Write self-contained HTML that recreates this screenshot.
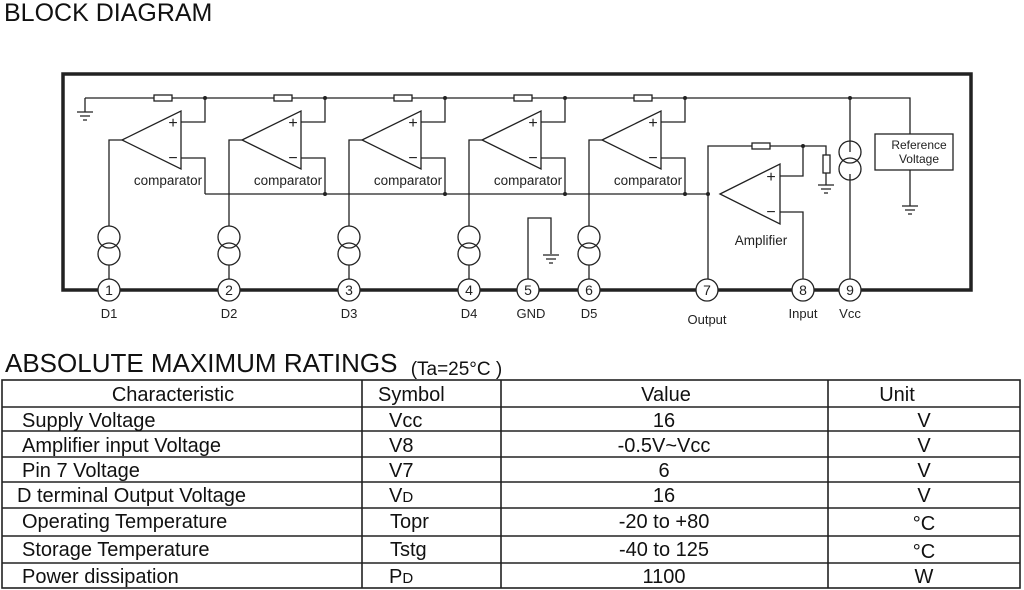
<!DOCTYPE html>
<html><head><meta charset="utf-8"><style>
body{margin:0;background:#fff;width:1024px;height:590px;overflow:hidden;font-family:"Liberation Sans",sans-serif}
svg{position:absolute;left:0;top:0}
</style></head><body>
<svg width="1024" height="590" viewBox="0 0 1024 590" font-family="Liberation Sans, sans-serif">
<text x="4" y="21" font-size="25" fill="#111">BLOCK DIAGRAM</text>
<g stroke="#222" stroke-width="1.3" fill="none">
<rect x="63" y="74" width="908" height="216" stroke-width="3.5"/>
<path d="M85 98H910V134"/>
<path d="M85 98V112M77 112H93M80 116H90M83 120H87"/>
<g fill="#fff">
<rect x="154" y="95" width="18" height="6"/><rect x="274" y="95" width="18" height="6"/>
<rect x="394" y="95" width="18" height="6"/><rect x="514" y="95" width="18" height="6"/>
<rect x="634" y="95" width="18" height="6"/>
</g>
<g id="c">
<path d="M122 140L181 111V169Z"/>
<path d="M181 122H205V98M181 158H205V194M122 140H109V226"/>
<circle cx="109" cy="237" r="11"/><circle cx="109" cy="254" r="11"/>
<path d="M109 265V279"/>
</g>
<use href="#c" x="120"/><use href="#c" x="240"/><use href="#c" x="360"/><use href="#c" x="480"/>
<path d="M205 194H708"/>
<path d="M528 279V218H551V254M543 255H559M546 259H556M549 263H553"/>
<path d="M720 194L780 164V224Z"/>
<path d="M708 290V146H803V176H780M803 146H826V155M780 212H803V279"/>
<rect x="752" y="143" width="18" height="6" fill="#fff"/>
<rect x="823" y="155" width="7" height="18" fill="#fff"/>
<path d="M826 173V185M818 185H834M821 189H831M824 193H828"/>
<path d="M850 98V152M850 174V279"/>
<circle cx="850" cy="152" r="11"/><circle cx="850" cy="169" r="11"/>
<rect x="875" y="134" width="78" height="36"/>
<path d="M910 170V206M902 206H918M905 210H915M908 214H912"/>
<g fill="#fff" stroke-width="1.3">
<circle cx="109" cy="290" r="11"/><circle cx="229" cy="290" r="11"/><circle cx="349" cy="290" r="11"/>
<circle cx="469" cy="290" r="11"/><circle cx="528" cy="290" r="11"/><circle cx="589" cy="290" r="11"/>
<circle cx="707" cy="290" r="11"/><circle cx="803" cy="290" r="11"/><circle cx="850" cy="290" r="11"/>
</g>
</g>
<g fill="#222">
<circle cx="205" cy="98" r="2"/><circle cx="325" cy="98" r="2"/><circle cx="445" cy="98" r="2"/>
<circle cx="565" cy="98" r="2"/><circle cx="685" cy="98" r="2"/><circle cx="850" cy="98" r="2"/>
<circle cx="325" cy="194" r="2"/><circle cx="445" cy="194" r="2"/><circle cx="565" cy="194" r="2"/>
<circle cx="685" cy="194" r="2"/><circle cx="708" cy="194" r="2"/><circle cx="803" cy="146" r="2"/>
</g>
<g font-size="13" fill="#222" text-anchor="middle">
<g font-size="16"><text x="173" y="128">+</text><text x="173" y="163">−</text>
<text x="293" y="128">+</text><text x="293" y="163">−</text>
<text x="413" y="128">+</text><text x="413" y="163">−</text>
<text x="533" y="128">+</text><text x="533" y="163">−</text>
<text x="653" y="128">+</text><text x="653" y="163">−</text>
<text x="771" y="182">+</text><text x="771" y="217">−</text></g>
<g font-size="13.5"><text x="168" y="185">comparator</text><text x="288" y="185">comparator</text><text x="408" y="185">comparator</text>
<text x="528" y="185">comparator</text><text x="648" y="185">comparator</text>
<text x="761" y="245">Amplifier</text></g>
<g font-size="12"><text x="919" y="149">Reference</text><text x="919" y="163">Voltage</text></g>
<g font-size="14"><text x="109" y="295">1</text><text x="229" y="295">2</text><text x="349" y="295">3</text>
<text x="469" y="295">4</text><text x="528" y="295">5</text><text x="589" y="295">6</text>
<text x="707" y="295">7</text><text x="803" y="295">8</text><text x="850" y="295">9</text></g>
<text x="109" y="318">D1</text><text x="229" y="318">D2</text><text x="349" y="318">D3</text>
<text x="469" y="318">D4</text><text x="531" y="318">GND</text><text x="589" y="318">D5</text>
<text x="707" y="324">Output</text><text x="803" y="318">Input</text><text x="850" y="318">Vcc</text>
</g>
<text x="5" y="372" font-size="26" fill="#111">ABSOLUTE MAXIMUM RATINGS <tspan font-size="19" dx="6" dy="3">(Ta=25°C )</tspan></text>
<g stroke="#222" stroke-width="1.6" fill="none">
<rect x="2" y="380" width="1018" height="208"/>
<path d="M2 407H1020M2 431H1020M2 457H1020M2 482H1020M2 508H1020M2 536H1020M2 563H1020"/>
<path d="M362 380V588M501 380V588M828 380V588"/>
</g>
<g font-size="20" fill="#111">
<text x="173" y="401" text-anchor="middle">Characteristic</text>
<text x="378" y="401">Symbol</text><text x="666" y="401" text-anchor="middle">Value</text><text x="897" y="401" text-anchor="middle">Unit</text>
<text x="22" y="427">Supply Voltage</text><text x="22" y="452">Amplifier input Voltage</text>
<text x="22" y="477">Pin 7 Voltage</text><text x="17" y="502">D terminal Output Voltage</text>
<text x="22" y="528">Operating Temperature</text><text x="22" y="556">Storage Temperature</text>
<text x="22" y="583">Power dissipation</text>
<text x="389" y="427">Vcc</text><text x="389" y="452">V8</text><text x="389" y="477">V7</text>
<text x="389" y="502">V<tspan font-size="15">D</tspan></text><text x="390" y="528">Topr</text><text x="390" y="556">Tstg</text>
<text x="389" y="583">P<tspan font-size="15">D</tspan></text>
<g text-anchor="middle">
<text x="664" y="427">16</text><text x="664" y="452">-0.5V~Vcc</text><text x="664" y="477">6</text>
<text x="664" y="502">16</text><text x="664" y="528">-20 to +80</text><text x="664" y="556">-40 to 125</text>
<text x="664" y="583">1100</text>
<text x="924" y="427">V</text><text x="924" y="452">V</text><text x="924" y="477">V</text><text x="924" y="502">V</text>
<text x="924" y="530">°C</text><text x="924" y="558">°C</text><text x="924" y="583">W</text>
</g></g>
</svg>
</body></html>
